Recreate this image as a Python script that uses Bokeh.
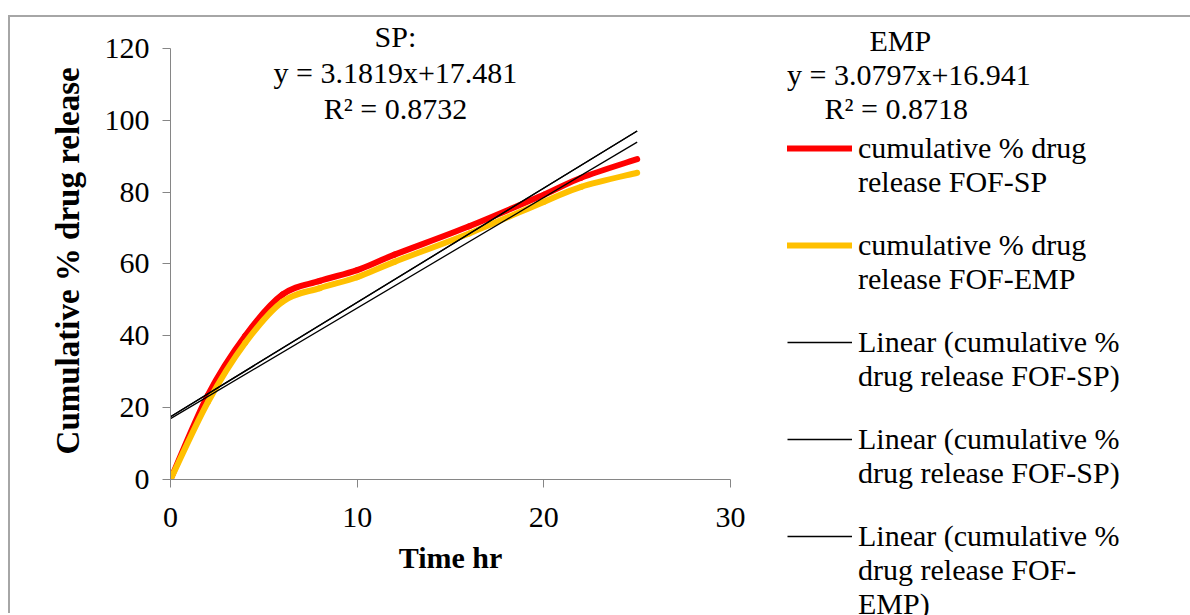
from bokeh.plotting import figure
from bokeh.models import Range1d, Label, Legend, LegendItem, FixedTicker
from bokeh.embed import file_html
from bokeh.resources import INLINE

# ---------------- data ----------------
time_hr = [0, 2, 4, 6, 8, 10, 12, 16, 20, 22, 25]
release_sp = [0, 23.5, 40, 51.5, 55.3, 58.3, 62.6, 70.5, 79.3, 84.0, 89.2]
release_emp = [0, 21.5, 38, 49.5, 53.3, 56.3, 60.6, 68.5, 77.3, 81.5, 85.4]

trend_names = ["SP:", "EMP"]
trend_slopes = [3.1819, 3.0797]
trend_intercepts = [17.481, 16.941]
trend_r2 = [0.8732, 0.8718]

x_ticks = [0, 10, 20, 30]
y_ticks = [0, 20, 40, 60, 80, 100, 120]

# legend entries: each entry is a list of text lines
legend_entries = [
    ["cumulative % drug", "release FOF-SP"],
    ["cumulative % drug", "release FOF-EMP"],
    ["Linear (cumulative %", "drug release FOF-SP)"],
    ["Linear (cumulative %", "drug release FOF-SP)"],
    ["Linear (cumulative %", "drug release FOF-", "EMP)"],
]

FONT = "Liberation Serif"
RED = "#ff0000"
GOLD = "#ffc000"
NB = "\u00a0"


def smooth_segments(xs, ys):
    """Bezier control points (Catmull-Rom style) through the data points."""
    n = len(xs)
    d = dict(x0=[], y0=[], x1=[], y1=[], cx0=[], cy0=[], cx1=[], cy1=[])
    for i in range(n - 1):
        xm, ym = (xs[i - 1], ys[i - 1]) if i > 0 else (xs[i], ys[i])
        xp, yp = (xs[i + 2], ys[i + 2]) if i + 2 < n else (xs[i + 1], ys[i + 1])
        d["x0"].append(xs[i]); d["y0"].append(ys[i])
        d["x1"].append(xs[i + 1]); d["y1"].append(ys[i + 1])
        d["cx0"].append(xs[i] + (xs[i + 1] - xm) / 6.0)
        d["cy0"].append(ys[i] + (ys[i + 1] - ym) / 6.0)
        d["cx1"].append(xs[i + 1] - (xp - xs[i]) / 6.0)
        d["cy1"].append(ys[i + 1] - (yp - ys[i]) / 6.0)
    return d


BZ = dict(x0="x0", y0="y0", x1="x1", y1="y1", cx0="cx0", cy0="cy0", cx1="cx1", cy1="cy1")

p = figure(
    frame_width=560, frame_height=462,
    x_range=Range1d(0, 30), y_range=Range1d(0, 128.63),
    output_backend="svg", toolbar_location=None,
    min_border_left=160, min_border_top=0,
    min_border_right=458, min_border_bottom=134,
)
p.styles = {
    "margin-left": "8px",
    "margin-top": "15px",
    "border-top": "2px solid #a6a6a6",
    "border-left": "2px solid #a6a6a6",
}
p.outline_line_color = None
p.xgrid.visible = False
p.ygrid.visible = False

r_sp = p.bezier(**BZ, source=smooth_segments(time_hr, release_sp),
                line_color=RED, line_width=6, line_cap="round")
r_emp = p.bezier(**BZ, source=smooth_segments(time_hr, release_emp),
                 line_color=GOLD, line_width=6, line_cap="round")

tx = [min(time_hr), max(time_hr)]
r_lin = []
for m, b in [(trend_slopes[0], trend_intercepts[0]),
             (trend_slopes[0], trend_intercepts[0]),
             (trend_slopes[1], trend_intercepts[1])]:
    r_lin.append(p.line(tx, [m * t + b for t in tx], line_color="black", line_width=1.3))
r_blank = p.line([], [], line_alpha=0)

for ax in (p.xaxis[0], p.yaxis[0]):
    ax.axis_line_color = "#868686"
    ax.major_tick_line_color = "#868686"
    ax.minor_tick_line_color = None
    ax.major_tick_out = 8
    ax.major_tick_in = 0
    ax.major_label_text_font = FONT
    ax.major_label_text_font_size = "30px"
    ax.major_label_text_color = "black"
    ax.axis_label_text_font = FONT
    ax.axis_label_text_font_style = "bold"
    ax.axis_label_text_color = "black"
p.xaxis.ticker = FixedTicker(ticks=x_ticks)
p.yaxis.ticker = FixedTicker(ticks=y_ticks)
p.xaxis.bounds = (0, 30)
p.yaxis.bounds = (0, 120)
p.xaxis.axis_label = "Time hr"
p.yaxis.axis_label = "Cumulative % drug release" + NB * 3
p.xaxis.axis_label_text_font_size = "30px"
p.yaxis.axis_label_text_font_size = "33px"
p.xaxis.major_label_standoff = 20
p.yaxis.major_label_standoff = 13
p.xaxis.axis_label_standoff = 11
p.yaxis.axis_label_standoff = 16


def eq_lines(i):
    return [trend_names[i],
            f"y = {trend_slopes[i]:.4f}x+{trend_intercepts[i]:.3f}",
            f"R\u00b2 = {trend_r2[i]:.4f}"]


p.add_layout(Label(
    x=12.05, y=113.3, text="\n".join(eq_lines(0)),
    text_align="center", text_baseline="middle",
    text_font=FONT, text_font_size="30px", text_color="black",
    text_line_height=1.09,
))

# EMP equation shown as the legend title (left aligned, padded to look centred)
emp = eq_lines(1)
emp_title = "\n".join([NB * 11 + emp[0], emp[1], NB * 5 + emp[2]])

swatches = [r_sp, r_emp] + r_lin
items = []
for k, (lines, sw) in enumerate(zip(legend_entries, swatches)):
    if k > 0:
        items.append(LegendItem(label=" ", renderers=[r_blank]))
    items.append(LegendItem(label=lines[0], renderers=[sw]))
    for extra in lines[1:]:
        items.append(LegendItem(label=extra, renderers=[r_blank]))

legend = Legend(
    items=items,
    location=(57, -142),
    title=emp_title,
    title_text_font=FONT, title_text_font_size="30px", title_text_color="black",
    title_text_font_style="normal", title_text_line_height=1.12, title_standoff=5,
    label_text_font=FONT, label_text_font_size="30px", label_text_color="black",
    glyph_width=65, glyph_height=20, label_height=29, label_standoff=6,
    spacing=0, padding=0, margin=0,
    border_line_color=None, background_fill_alpha=0,
)
p.add_layout(legend, "right")

open("out.html", "w").write(file_html(p, INLINE))
